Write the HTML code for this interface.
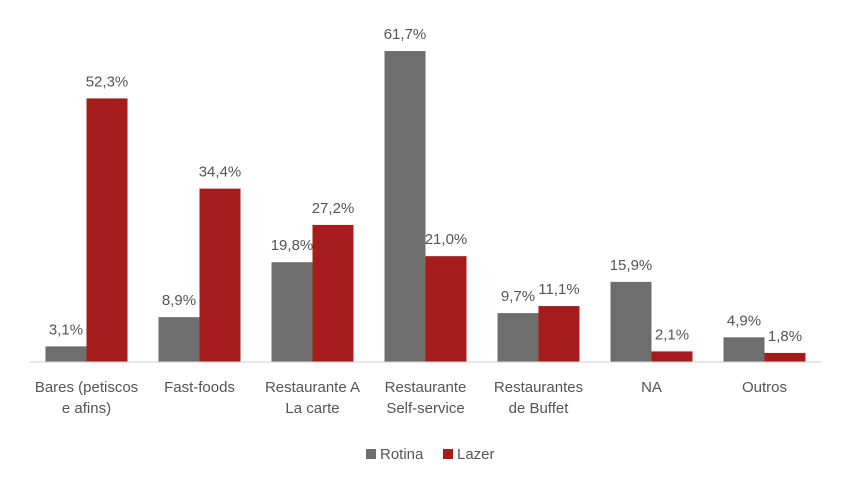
<!DOCTYPE html>
<html><head><meta charset="utf-8"><style>
body{margin:0;background:#fff;width:854px;height:492px;overflow:hidden}
svg{display:block;font-family:"Liberation Sans",sans-serif}
</style></head><body>
<svg id="chart" width="854" height="492"></svg>
<script>
const categories=[["Bares (petiscos","e afins)"],["Fast-foods"],["Restaurante A","La carte"],["Restaurante","Self-service"],["Restaurantes","de Buffet"],["NA"],["Outros"]];
const rotina=[3.1,8.9,19.8,61.7,9.7,15.9,4.9];
const lazer=[52.3,34.4,27.2,21.0,11.1,2.1,1.8];
const seriesNames=["Rotina","Lazer"];
const NS="http://www.w3.org/2000/svg";
const svg=document.getElementById('chart');
const base=362,scale=5.04,x0=30,step=113,bw=41;
const y=v=>base-v*scale;
const xc=i=>x0+step*i+step/2;
function mk(t,a){const e=document.createElementNS(NS,t);for(const k in a)e.setAttribute(k,a[k]);svg.appendChild(e);return e;}
const fmt=v=>v.toFixed(1).replace('.',',')+'%';
const cols=["#6e6e6e","#a61c1c"];
[rotina,lazer].forEach((s,si)=>{s.forEach((v,i)=>{
 const x=xc(i)-bw+si*bw;
 const r=mk('rect',{x:x,y:y(v),width:bw,height:v*scale,fill:cols[si]});
 
 
 const t=mk('text',{x:x+bw/2,y:y(v)-12,'text-anchor':'middle','font-size':15,fill:'#555'});
 t.textContent=fmt(v);
 
 
});});
const ax=mk('line',{x1:x0,x2:x0+step*7,y1:base,y2:base,stroke:'#d0d0d0','stroke-width':1});


categories.forEach((c,i)=>{c.forEach((ln,j)=>{
 const t=mk('text',{x:xc(i),y:392+j*21,'text-anchor':'middle','font-size':15,fill:'#555'});
 t.textContent=ln;
 
 
});});
const lx=[366,443];
seriesNames.forEach((n,i)=>{
 const r=mk('rect',{x:lx[i],y:449,width:10,height:10,fill:cols[i]});
 
 
 const t=mk('text',{x:lx[i]+14,y:459,'font-size':15,fill:'#555'});
 t.textContent=n;
 
 
});
</script>
</body></html>
